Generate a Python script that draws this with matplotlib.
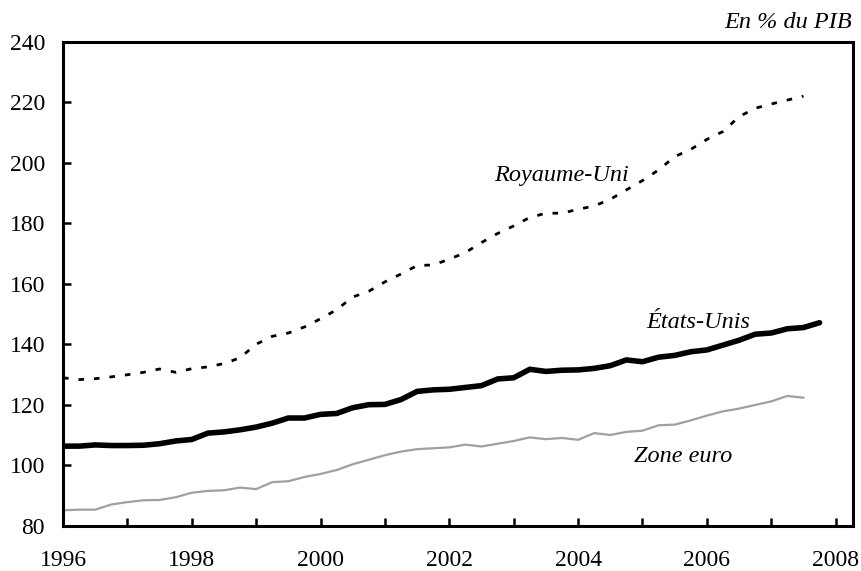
import numpy as np
import matplotlib
matplotlib.use("Agg")
import matplotlib.pyplot as plt
from matplotlib.ticker import MultipleLocator

plt.rcParams["font.family"] = ["Liberation Serif", "DejaVu Serif"]

# Quarterly debt ratios, 1996Q1 onwards (% of GDP)
royaume_uni = [129.0, 128.4, 128.7, 129.3, 130.0, 130.8, 131.9, 130.8,
               132.0, 132.6, 133.7, 135.6, 140.1, 142.7, 143.8, 145.8,
               148.5, 151.5, 155.7, 157.6, 160.7, 163.3, 166.1, 166.3,
               168.2, 170.4, 173.7, 176.7, 179.2, 182.0, 183.4, 183.4,
               184.7, 185.8, 188.0, 191.1, 194.2, 197.7, 202.1, 204.5,
               207.8, 210.4, 215.3, 218.1, 219.5, 220.8, 222.1]
etats_unis = [106.4, 106.4, 106.8, 106.6, 106.6, 106.7, 107.2, 108.1,
              108.6, 110.7, 111.1, 111.8, 112.7, 114.0, 115.7, 115.7,
              116.9, 117.2, 119.1, 120.1, 120.2, 121.8, 124.5, 125.0,
              125.2, 125.8, 126.4, 128.6, 129.0, 131.8, 131.1, 131.5,
              131.6, 132.1, 133.0, 134.9, 134.3, 135.8, 136.4, 137.6,
              138.2, 139.8, 141.4, 143.4, 143.8, 145.2, 145.6, 147.2]
zone_euro = [85.2, 85.4, 85.4, 87.1, 87.9, 88.5, 88.6, 89.5,
             91.0, 91.6, 91.8, 92.7, 92.2, 94.5, 94.8, 96.2,
             97.2, 98.5, 100.4, 101.9, 103.4, 104.6, 105.4, 105.7,
             106.0, 106.9, 106.3, 107.2, 108.1, 109.3, 108.7, 109.1,
             108.5, 110.7, 110.1, 111.1, 111.5, 113.3, 113.5, 114.9,
             116.5, 117.9, 118.8, 120.0, 121.2, 123.0, 122.4]

start_year = 1996
x_labels = ["1996", "1998", "2000", "2002", "2004", "2006", "2008"]


def quarters(series):
    return start_year + np.arange(len(series)) / 4.0


W, H = 862, 571
fig = plt.figure(figsize=(W / 100, H / 100), dpi=100)
ax = fig.add_axes([63 / W, 45 / H, 790 / W, 484 / H])

ax.plot(quarters(royaume_uni), royaume_uni, color="black", lw=2.0,
        linestyle=(0, (2.0, 3.6)), solid_capstyle="butt")
ax.plot(quarters(etats_unis), etats_unis, color="black", lw=4.0,
        solid_joinstyle="round", solid_capstyle="round")
ax.plot(quarters(zone_euro), zone_euro, color="#a0a0a0", lw=1.6)

ax.set_xlim(1996, 2008.27)
ax.set_ylim(80, 240)
ax.yaxis.set_major_locator(MultipleLocator(20))
ax.set_xticks([int(s) for s in x_labels])
ax.set_xticklabels(x_labels)
ax.xaxis.set_minor_locator(MultipleLocator(1))

for sp in ax.spines.values():
    sp.set_linewidth(2.2)

ax.tick_params(axis="both", which="both", direction="in", width=1.8,
               length=6, labelsize=17)
ax.tick_params(axis="x", which="major", pad=17)
ax.tick_params(axis="y", which="major", pad=13)


def label(x, y, s, ha="center"):
    fig.text(x / W, 1 - y / H, s, fontsize=17.5, style="italic",
             ha=ha, va="center")


label(852, 22, "En % du PIB", ha="right")
label(562, 176, "Royaume-Uni")
label(698, 323, "États-Unis")
label(683, 457, "Zone euro")

fig.savefig("out.png", dpi=100)
